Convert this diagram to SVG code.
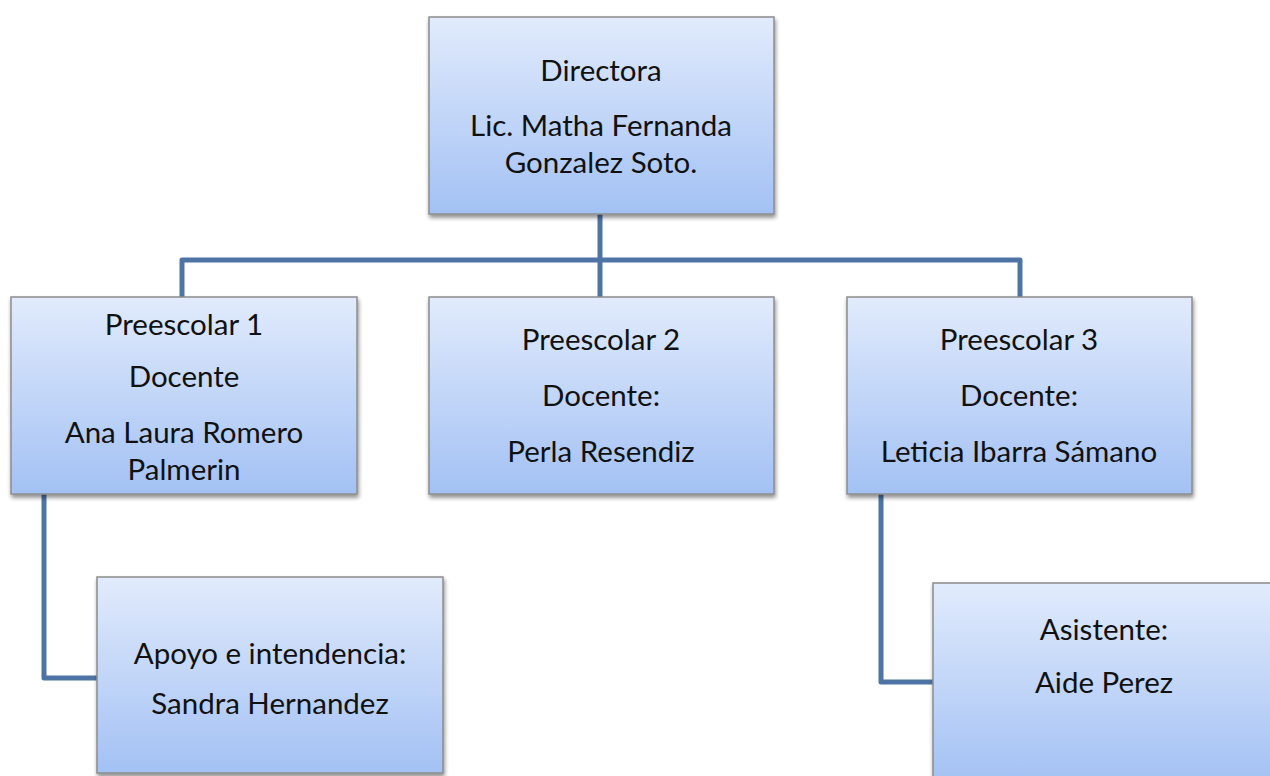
<svg xmlns="http://www.w3.org/2000/svg" width="1270" height="776" viewBox="0 0 1270 776">
<defs>
<linearGradient id="g" x1="0" y1="0" x2="0" y2="1">
<stop offset="0" stop-color="#e1ebfc"/>
<stop offset="1" stop-color="#a3c1f4"/>
</linearGradient>
<filter id="sh" x="-10%" y="-10%" width="120%" height="120%">
<feGaussianBlur in="SourceAlpha" stdDeviation="2"/>
<feOffset dx="1" dy="3"/>
<feComponentTransfer><feFuncA type="linear" slope="0.45"/></feComponentTransfer>
<feMerge><feMergeNode/><feMergeNode in="SourceGraphic"/></feMerge>
</filter>
</defs>
<style>
.box{fill:url(#g);stroke:#8c8c8c;stroke-width:1.5;filter:url(#sh)}
.t{font-family:Lato,"Open Sans",sans-serif;font-size:29.5px;fill:#111;text-anchor:middle}
.c{fill:none;stroke:#4e74a6;stroke-width:5;stroke-linejoin:round}
</style>
<rect width="1270" height="776" fill="#fff"/>
<g id="connectors">
<path class="c" d="M600 214 V297"/>
<path class="c" d="M182 297 V260 H1020 V297"/>
<path class="c" d="M44 494 V678 H97"/>
<path class="c" d="M881 494 V682 H933"/>
</g>
<g id="directora">
<rect class="box" x="429" y="17" width="345" height="197"/>
<text class="t" x="601" y="81">Directora</text>
<text class="t" x="601" y="136">Lic. Matha Fernanda</text>
<text class="t" x="601" y="173">Gonzalez Soto.</text>
</g>
<g id="preescolar1">
<rect class="box" x="11" y="297" width="346" height="197"/>
<text class="t" x="184" y="335">Preescolar 1</text>
<text class="t" x="184" y="387">Docente</text>
<text class="t" x="184" y="443">Ana Laura Romero</text>
<text class="t" x="184" y="480">Palmerin</text>
</g>
<g id="preescolar2">
<rect class="box" x="429" y="297" width="345" height="197"/>
<text class="t" x="601" y="350">Preescolar 2</text>
<text class="t" x="601" y="406">Docente:</text>
<text class="t" x="601" y="462">Perla Resendiz</text>
</g>
<g id="preescolar3">
<rect class="box" x="847" y="297" width="345" height="197"/>
<text class="t" x="1019" y="350">Preescolar 3</text>
<text class="t" x="1019" y="406">Docente:</text>
<text class="t" x="1019" y="462">Leticia Ibarra Sámano</text>
</g>
<g id="apoyo">
<rect class="box" x="97" y="577" width="346" height="196"/>
<text class="t" x="270" y="664">Apoyo e intendencia:</text>
<text class="t" x="270" y="714">Sandra Hernandez</text>
</g>
<g id="asistente">
<rect class="box" x="933" y="583" width="345" height="200"/>
<text class="t" x="1104" y="640">Asistente:</text>
<text class="t" x="1104" y="693">Aide Perez</text>
</g>
</svg>
